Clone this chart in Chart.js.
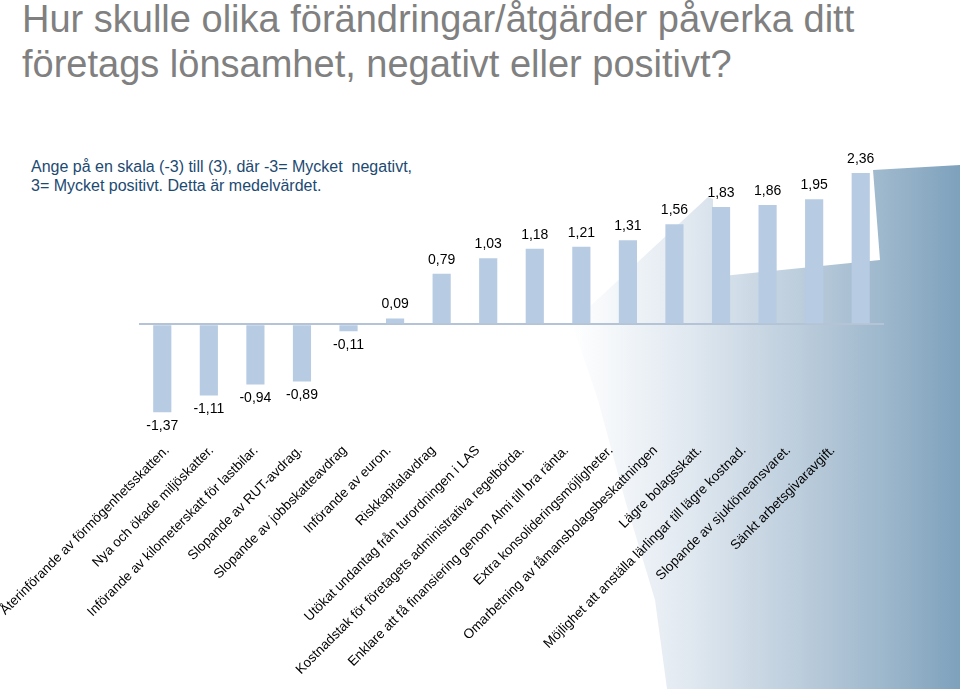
<!DOCTYPE html>
<html>
<head>
<meta charset="utf-8">
<script src="https://cdn.jsdelivr.net/npm/chart.js@4.4.0/dist/chart.umd.min.js"></script>
<style>
  html, body { margin: 0; padding: 0; }
  body { width: 960px; height: 689px; position: relative; overflow: hidden; background: #fff; font-family: "Liberation Sans", Arial, sans-serif; }
  #bg { position: absolute; left: 0; top: 0; width: 960px; height: 689px;
        background: linear-gradient(to right, #ffffff 0px, #ffffff 570px, #e0e8f0 690px, #bccddc 800px, #97b3c9 900px, #7ea1bc 960px);
        clip-path: polygon(572px 323px, 708px 197px, 713px 199px, 713px 277px, 880px 260px, 873px 170px, 960px 165px, 960px 689px, 667px 689px, 655px 600px, 625px 500px, 598px 400px); }
  #title { position: absolute; left: 22px; top: -3px; font-size: 38px; line-height: 45px; color: #808080; }
  #sub { position: absolute; left: 31px; top: 157px; font-size: 16px; line-height: 19px; color: #1c4a72; }
  #wrap { position: absolute; left: 0; top: 0; width: 960px; height: 689px; }
</style>
</head>
<body>
<div id="bg"></div>
<div id="title">Hur skulle olika förändringar/åtgärder påverka ditt<br>företags lönsamhet, negativt eller positivt?</div>
<div id="sub">Ange på en skala (-3) till (3), där -3= Mycket&nbsp; negativt,<br>3= Mycket positivt. Detta är medelvärdet.</div>
<div id="wrap"><canvas id="chartCanvas" width="960" height="689"></canvas></div>
<script>
const categories = [
  'Återinförande av förmögenhetsskatten.',
  'Nya och ökade miljöskatter.',
  'Införande av kilometerskatt för lastbilar.',
  'Slopande av RUT-avdrag.',
  'Slopande av jobbskatteavdrag',
  'Införande av euron.',
  'Riskkapitalavdrag',
  'Utökat undantag från turordningen i LAS',
  'Kostnadstak för företagets administrativa regelbörda.',
  'Enklare att få finansiering genom Almi till bra ränta.',
  'Extra konsolideringsmöjligheter.',
  'Omarbetning av fåmansbolagsbeskattningen',
  'Lägre bolagsskatt.',
  'Möjlighet att anställa lärlingar till lägre kostnad.',
  'Slopande av sjuklöneansvaret.',
  'Sänkt arbetsgivaravgift.'
];
const meanValues = [-1.37, -1.11, -0.94, -0.89, -0.11, 0.09, 0.79, 1.03, 1.18, 1.21, 1.31, 1.56, 1.83, 1.86, 1.95, 2.36];

const valueLabels = {
  id: 'valueLabels',
  afterDatasetsDraw(chart) {
    const ctx = chart.ctx;
    const meta = chart.getDatasetMeta(0);
    ctx.save();
    ctx.font = '14px "Liberation Sans", Arial, sans-serif';
    ctx.fillStyle = '#000';
    ctx.textAlign = 'center';
    meta.data.forEach((bar, i) => {
      const v = meanValues[i];
      const txt = v.toFixed(2).replace('.', ',');
      if (v >= 0) {
        ctx.textBaseline = 'bottom';
        ctx.fillText(txt, bar.x, bar.y - 7);
      } else {
        ctx.textBaseline = 'top';
        ctx.fillText(txt, bar.x, bar.y + 7);
      }
    });
    ctx.restore();
  }
};

// category labels in the original sit a bit tighter than the bars
const squeezeLabels = {
  id: 'squeezeLabels',
  afterLayout(chart) {
    const s = chart.scales.x2;
    s.left = 145;
    s.right = 855;
    s.width = s.right - s.left;
    s.configure();
  }
};

const ctx = document.getElementById('chartCanvas').getContext('2d');
new Chart(ctx, {
  type: 'bar',
  data: {
    labels: categories,
    datasets: [{
      data: meanValues,
      backgroundColor: '#b7cbe3',
      barPercentage: 0.78,
      categoryPercentage: 0.5
    }]
  },
  options: {
    responsive: false,
    animation: false,
    layout: { padding: { left: 139, right: 76, top: 164, bottom: 12 } },
    plugins: { legend: { display: false }, tooltip: { enabled: false } },
    scales: {
      x: { display: false },
      x2: {
        type: 'category',
        labels: categories,
        position: 'bottom',
        offset: true,
        grid: { display: false },
        border: { display: false },
        afterFit(scale) { scale.paddingLeft = 0; scale.paddingRight = 0; },
        ticks: {
          autoSkip: false,
          minRotation: 45,
          maxRotation: 45,
          padding: 14,
          color: '#000',
          font: { family: '"Liberation Sans", Arial, sans-serif', size: 13.5 }
        }
      },
      y: {
        min: -1.5,
        max: 2.5,
        border: { display: false },
        grid: {
          drawTicks: false,
          color: (c) => c.tick && c.tick.value === 0 ? '#b4c4d6' : 'rgba(0,0,0,0)',
          lineWidth: 2
        },
        ticks: { display: false, stepSize: 0.5 }
      }
    }
  },
  plugins: [valueLabels, squeezeLabels]
});
</script>
</body>
</html>
